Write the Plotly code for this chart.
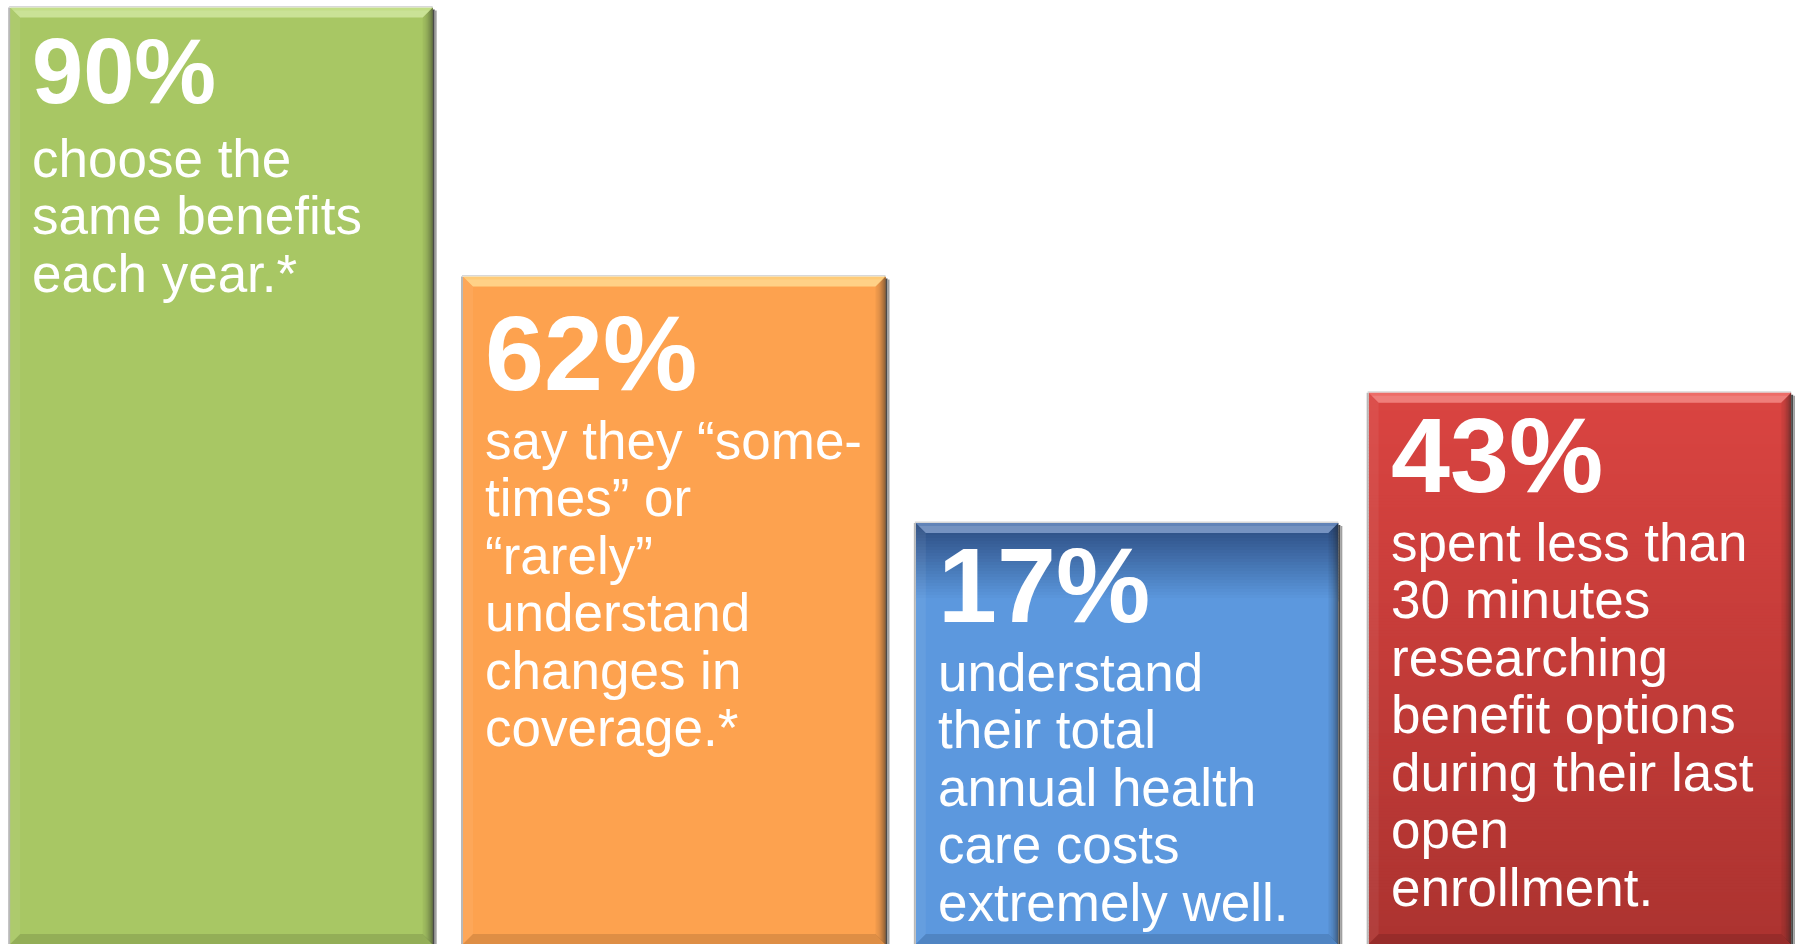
import plotly.graph_objects as go

# Survey headline figures shown on each tile
stat_values = [90, 62, 17, 43]
# Tile heights, as a share of the panel height
column_heights = [99.2, 70.7, 44.6, 58.4]
captions = [
    ["choose the", "same benefits", "each year.*"],
    ["say they \u201csome-", "times\u201d or", "\u201crarely\u201d", "understand",
     "changes in", "coverage.*"],
    ["understand", "their total", "annual health", "care costs", "extremely well."],
    ["spent less than", "30 minutes", "researching", "benefit options",
     "during their last", "open", "enrollment."],
]

W, H = 1795, 944
X_RANGE = [-0.489, 3.475]
Y_RANGE = [0, 100]
PX_X = W / (X_RANGE[1] - X_RANGE[0])   # pixels per x unit
PX_Y = H / (Y_RANGE[1] - Y_RANGE[0])   # pixels per y unit
BAR_W = 0.933

fills = ["#A8C764", "#FDA24F", "#5C98DE", "#D8423F"]
top_light = ["#C8E28E", "#FFD27E", "#6C8EC2", "#F07470"]
# vertical gradients (top colour, bottom colour, depth in px or None = full)
gradients = [None, None, ("#2B4C80", "#5C98DE", 78), ("#DA4441", "#AC3330", None)]

pct_sizes = [92, 106, 106, 106]
pct_top = [12, 17, 3, 3]         # px from tile top to the stat text box
body_top = [121, 134, 120, 120]  # px from tile top to the first caption line
BODY_SIZE = 53
LINE_GAP = 57.5
TEXT_INSET = 22


def hex_rgb(h):
    h = h.lstrip("#")
    return tuple(int(h[i:i + 2], 16) for i in (0, 2, 4))


def mix(c1, c2, t):
    a, b = hex_rgb(c1), hex_rgb(c2)
    return "rgb({},{},{})".format(*[round(a[i] + (b[i] - a[i]) * t) for i in range(3)])


def dx(px):
    return px / PX_X


def dy(px):
    return px / PX_Y


shapes = []


def rect(x0, x1, y0, y1, color, opacity=1.0):
    shapes.append(dict(type="rect", xref="x", yref="y", x0=x0, x1=x1, y0=y0, y1=y1,
                       fillcolor=color, opacity=opacity, line=dict(width=0),
                       layer="above"))


def poly(pts, color, opacity=1.0):
    path = "M " + " L ".join(f"{x},{y}" for x, y in pts) + " Z"
    shapes.append(dict(type="path", xref="x", yref="y", path=path, fillcolor=color,
                       opacity=opacity, line=dict(width=0), layer="above"))


fig = go.Figure()
idx = list(range(len(stat_values)))
fig.add_trace(go.Bar(
    x=idx, y=column_heights, width=BAR_W,
    marker=dict(color=fills, line=dict(width=0)),
    hoverinfo="skip", text=[f"{v}%" for v in stat_values], textposition="none",
))

annotations = []
BEV = 10  # bevel depth, px
for i, (h, fill) in enumerate(zip(column_heights, fills)):
    x0, x1 = i - BAR_W / 2, i + BAR_W / 2
    top, bot = h, Y_RANGE[0]

    # body gradient
    g = gradients[i]
    if g is not None:
        c_top, c_bot, depth = g
        span_px = depth if depth else (top - bot) * PX_Y
        steps = int(span_px // 3)
        for k in range(steps):
            ya = top - dy(span_px * k / steps)
            yb = top - dy(span_px * (k + 1) / steps) - dy(0.5)
            rect(x0, x1, yb, ya, mix(c_top, c_bot, k / max(steps - 1, 1)))

    # outer drop shadow on the right edge
    rect(x1, x1 + dx(2), bot, top - dy(2), "#4A4A4A")
    rect(x1 + dx(2), x1 + dx(4), bot, top - dy(3), "#A0A0A0")
    # thin grey outline on the left edge
    rect(x0 - dx(2), x0, bot, top, "#B8B8B8")
    rect(x0 - dx(1), x1, top, top + dy(1.5), "#D8D8D8")

    # right bevel: darkening towards the edge
    for k in range(BEV):
        t = (k + 1) / BEV
        rect(x1 - dx(BEV - k), x1 - dx(BEV - k - 1), bot + dy(BEV - k - 1),
             top - dy(BEV - k - 1), "#202020", opacity=0.05 + 0.5 * t * t)

    # bottom bevel
    poly([(x0, bot), (x1, bot), (x1 - dx(BEV), bot + dy(BEV)), (x0 + dx(BEV), bot + dy(BEV))],
         "#000000", opacity=0.12)

    # left bevel: faint highlight
    poly([(x0, top), (x0 + dx(BEV), top - dy(BEV)), (x0 + dx(BEV), bot + dy(BEV)), (x0, bot)],
         "#FFFFFF", opacity=0.06)

    # top bevel: light band with mitred corners
    poly([(x0, top), (x1, top), (x1 - dx(BEV), top - dy(BEV)), (x0 + dx(BEV), top - dy(BEV))],
         top_light[i], opacity=0.85)
    poly([(x0 + dx(3), top - dy(3)), (x1 - dx(3), top - dy(3)),
          (x1 - dx(BEV), top - dy(BEV)), (x0 + dx(BEV), top - dy(BEV))],
         "#FFFFFF", opacity=0.12)

    # headline figure
    annotations.append(dict(
        x=x0, y=top, xref="x", yref="y", xanchor="left", yanchor="top",
        xshift=TEXT_INSET, yshift=-pct_top[i], showarrow=False,
        text=f"<b>{stat_values[i]}%</b>", borderpad=0, borderwidth=0,
        font=dict(family="Liberation Sans, Arial, sans-serif", size=pct_sizes[i],
                  color="#FFFFFF"),
    ))
    # caption lines
    for j, line in enumerate(captions[i]):
        annotations.append(dict(
            x=x0, y=top, xref="x", yref="y", xanchor="left", yanchor="top",
            xshift=TEXT_INSET, yshift=-(body_top[i] + j * LINE_GAP), showarrow=False,
            text=line, borderpad=0, borderwidth=0,
            font=dict(family="Liberation Sans, Arial, sans-serif", size=BODY_SIZE,
                      color="#FFFFFF"),
        ))

fig.update_layout(
    width=W, height=H,
    margin=dict(l=0, r=0, t=0, b=0),
    paper_bgcolor="#FFFFFF", plot_bgcolor="#FFFFFF",
    showlegend=False, bargap=0,
    xaxis=dict(range=X_RANGE, visible=False, fixedrange=True),
    yaxis=dict(range=Y_RANGE, visible=False, fixedrange=True),
    shapes=shapes, annotations=annotations,
)

fig.write_html("out.html", config=dict(displayModeBar=False))
